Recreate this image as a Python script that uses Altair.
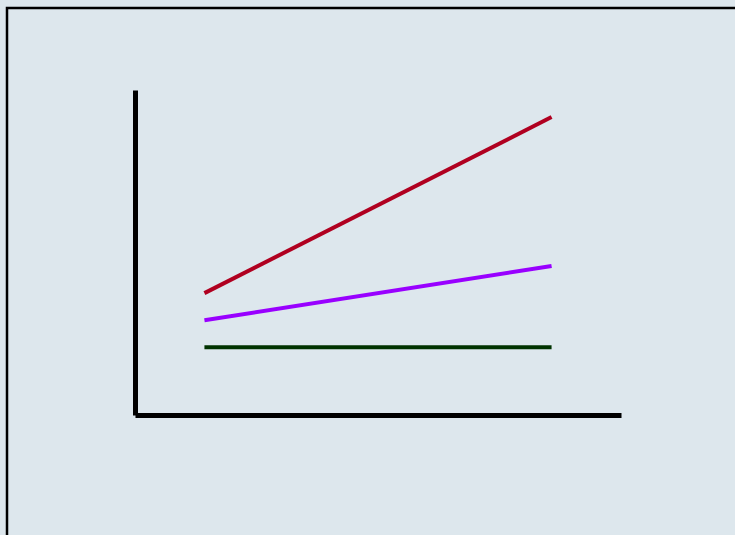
import altair as alt
import pandas as pd

# Three series, each drawn as a straight segment between two x positions
series = ["Upper", "Middle", "Lower"]
x_start = [1, 1, 1]
x_end = [6, 6, 6]
y_start = [4.5, 3.5, 2.5]
y_end = [11.0, 5.5, 2.5]
colors = ["#b00020", "#9900ff", "#003300"]

rows = []
for name, xs, xe, ys, ye in zip(series, x_start, x_end, y_start, y_end):
    rows.append({"series": name, "x": xs, "y": ys})
    rows.append({"series": name, "x": xe, "y": ye})
df = pd.DataFrame(rows)

x_scale = alt.Scale(domain=[0, 7], nice=False, zero=False)
y_scale = alt.Scale(domain=[0, 12], nice=False, zero=False)

lines = alt.Chart(df).mark_line(strokeWidth=4, strokeCap="butt").encode(
    x=alt.X("x:Q", scale=x_scale,
            axis=alt.Axis(title=None, labels=False, ticks=False, grid=False,
                          domainColor="black", domainWidth=5)),
    y=alt.Y("y:Q", scale=y_scale,
            axis=alt.Axis(title=None, labels=False, ticks=False, grid=False,
                          domainColor="black", domainWidth=5)),
    color=alt.Color("series:N", scale=alt.Scale(domain=series, range=colors),
                    legend=None),
    detail="series:N",
)

# Thin frame around the slide area
frame = alt.Chart(pd.DataFrame({"a": [0]})).mark_rect(
    fill=None, stroke="black", strokeWidth=2.5
).encode(
    x=alt.value(-128), x2=alt.value(620),
    y=alt.value(-82), y2=alt.value(470),
)

chart = alt.layer(frame, lines).properties(
    width=486,
    height=325,
    padding={"left": 135, "top": 90, "right": 114, "bottom": 120},
    autosize=alt.AutoSizeParams(type="none"),
    background="#dde7ed",
).configure_view(stroke=None)

chart.save("out.html", embed_options={"renderer": "svg", "actions": False})
